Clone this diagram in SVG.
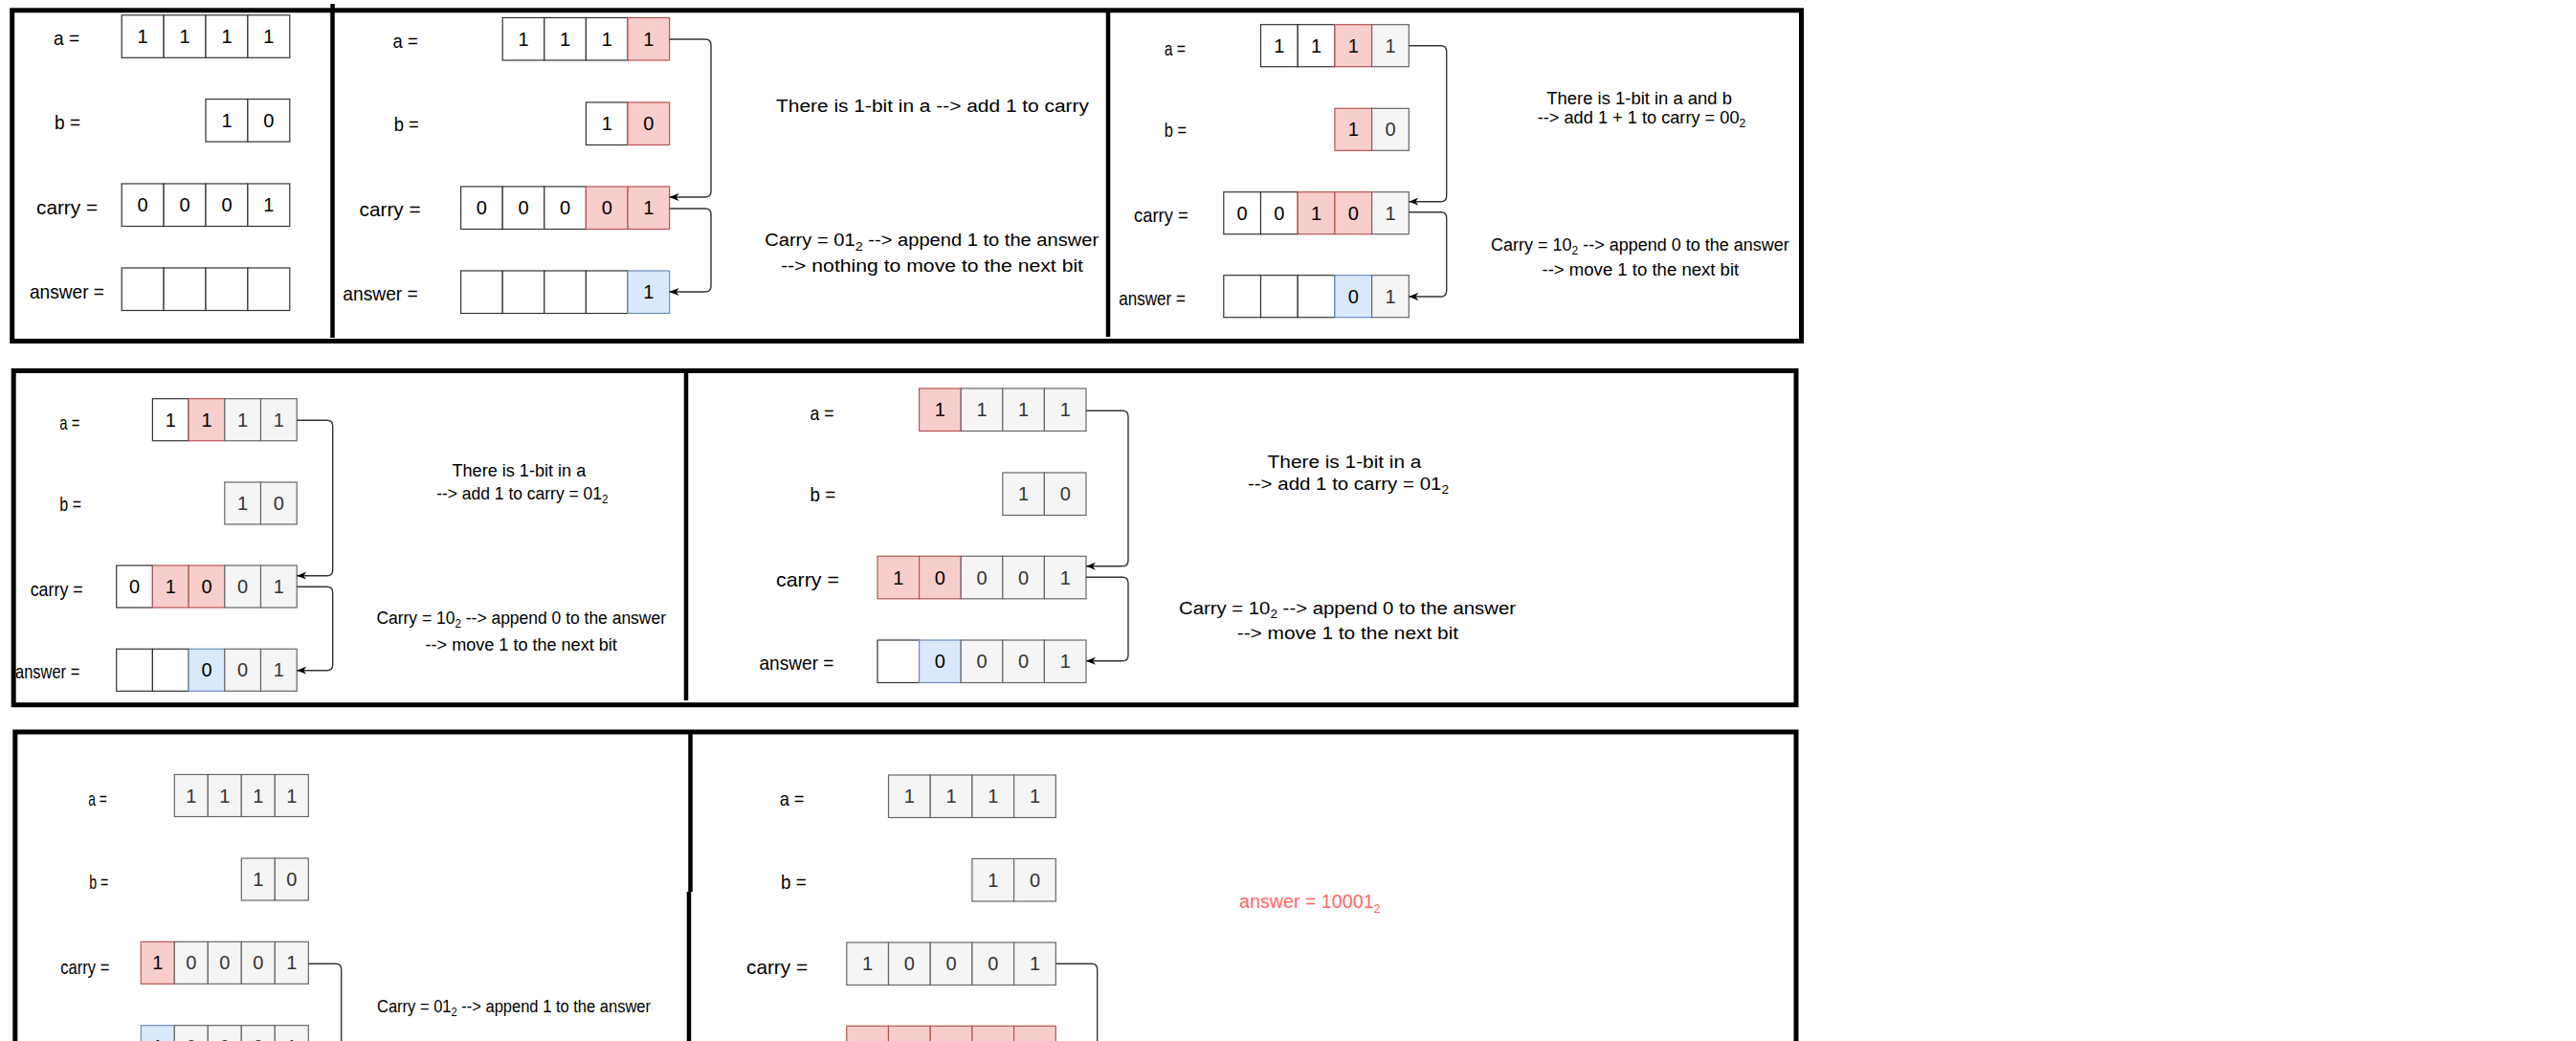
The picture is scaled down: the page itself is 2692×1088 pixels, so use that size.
<svg xmlns="http://www.w3.org/2000/svg" width="2692" height="1088" viewBox="0 0 2692 1088">
<style>
text{font-family:'Liberation Sans',Arial,sans-serif;fill:#000}
.lb{font-size:21px}
.tx{font-size:18px}
.d{font-size:20px;text-anchor:middle}
.dg{font-size:20px;text-anchor:middle;fill:#333}
.w{fill:#fff;stroke:#333;stroke-width:1.2}
.r{fill:#f8cecc;stroke:#b85450;stroke-width:1.2}
.g{fill:#f5f5f5;stroke:#666;stroke-width:1.2}
.b{fill:#dae8fc;stroke:#6c8ebf;stroke-width:1.2}
.frame{fill:none;stroke:#000;stroke-width:5}
.div{stroke:#000;stroke-width:4.5}
.c{fill:none;stroke:#333;stroke-width:1.4}
.ca{fill:none;stroke:#333;stroke-width:1.4;marker-end:url(#arr)}
.red{fill:#FF6666;font-size:20px}
</style>
<defs>
<marker id="arr" viewBox="0 0 10 10" refX="10" refY="5" markerWidth="10" markerHeight="10" markerUnits="userSpaceOnUse" orient="auto">
<path d="M0,1 L10,5 L0,9 L3,5 z" fill="#000"/>
</marker>
</defs>
<rect width="2692" height="1088" fill="#fff"/>

<!-- Row 1 Panel 1 -->
<g id="r1p1-a">
<text class="lb" x="56" y="47" textLength="27" lengthAdjust="spacingAndGlyphs">a =</text>
<rect class="w" x="127.2" y="15.8" width="43.9" height="44.5"/><rect class="w" x="171.1" y="15.8" width="43.9" height="44.5"/><rect class="w" x="215" y="15.8" width="43.9" height="44.5"/><rect class="w" x="258.9" y="15.8" width="43.9" height="44.5"/>
<text class="d" x="149.15" y="45">1</text><text class="d" x="193.05" y="45">1</text><text class="d" x="236.95" y="45">1</text><text class="d" x="280.85" y="45">1</text>
</g>
<g id="r1p1-b">
<text class="lb" x="57" y="135" textLength="27" lengthAdjust="spacingAndGlyphs">b =</text>
<rect class="w" x="215" y="103.6" width="43.9" height="44.5"/><rect class="w" x="258.9" y="103.6" width="43.9" height="44.5"/>
<text class="d" x="236.95" y="132.9">1</text><text class="d" x="280.85" y="132.9">0</text>
</g>
<g id="r1p1-carry">
<text class="lb" x="38" y="224" textLength="64" lengthAdjust="spacingAndGlyphs">carry =</text>
<rect class="w" x="127.2" y="192" width="43.9" height="44.5"/><rect class="w" x="171.1" y="192" width="43.9" height="44.5"/><rect class="w" x="215" y="192" width="43.9" height="44.5"/><rect class="w" x="258.9" y="192" width="43.9" height="44.5"/>
<text class="d" x="149.15" y="221.3">0</text><text class="d" x="193.05" y="221.3">0</text><text class="d" x="236.95" y="221.3">0</text><text class="d" x="280.85" y="221.3">1</text>
</g>
<g id="r1p1-answer">
<text class="lb" x="31" y="312" textLength="78" lengthAdjust="spacingAndGlyphs">answer =</text>
<rect class="w" x="127.2" y="280" width="43.9" height="44.5"/><rect class="w" x="171.1" y="280" width="43.9" height="44.5"/><rect class="w" x="215" y="280" width="43.9" height="44.5"/><rect class="w" x="258.9" y="280" width="43.9" height="44.5"/>
</g>

<!-- Row 1 Panel 2 -->
<g id="r1p2-a">
<text class="lb" x="410.6" y="49.7" textLength="26" lengthAdjust="spacingAndGlyphs">a =</text>
<rect class="w" x="525.2" y="18.5" width="43.6" height="44.5"/><rect class="w" x="568.8" y="18.5" width="43.6" height="44.5"/><rect class="w" x="612.4" y="18.5" width="43.6" height="44.5"/><rect class="r" x="656" y="18.5" width="43.6" height="44.5"/>
<text class="d" x="547" y="47.8">1</text><text class="d" x="590.6" y="47.8">1</text><text class="d" x="634.2" y="47.8">1</text><text class="d" x="677.8" y="47.8">1</text>
</g>
<g id="r1p2-b">
<text class="lb" x="411.7" y="137.2" textLength="26" lengthAdjust="spacingAndGlyphs">b =</text>
<rect class="w" x="612.4" y="107" width="43.6" height="44.5"/><rect class="r" x="656" y="107" width="43.6" height="44.5"/>
<text class="d" x="634.2" y="136.3">1</text><text class="d" x="677.8" y="136.3">0</text>
</g>
<g id="r1p2-carry">
<text class="lb" x="375.6" y="226.3" textLength="64" lengthAdjust="spacingAndGlyphs">carry =</text>
<rect class="w" x="481.6" y="195" width="43.6" height="44.5"/><rect class="w" x="525.2" y="195" width="43.6" height="44.5"/><rect class="w" x="568.8" y="195" width="43.6" height="44.5"/><rect class="r" x="612.4" y="195" width="43.6" height="44.5"/><rect class="r" x="656" y="195" width="43.6" height="44.5"/>
<text class="d" x="503.4" y="224.3">0</text><text class="d" x="547" y="224.3">0</text><text class="d" x="590.6" y="224.3">0</text><text class="d" x="634.2" y="224.3">0</text><text class="d" x="677.8" y="224.3">1</text>
</g>
<g id="r1p2-answer">
<text class="lb" x="358.3" y="313.8" textLength="78.5" lengthAdjust="spacingAndGlyphs">answer =</text>
<rect class="w" x="481.6" y="283" width="43.6" height="44.5"/><rect class="w" x="525.2" y="283" width="43.6" height="44.5"/><rect class="w" x="568.8" y="283" width="43.6" height="44.5"/><rect class="w" x="612.4" y="283" width="43.6" height="44.5"/><rect class="b" x="656" y="283" width="43.6" height="44.5"/>
<text class="d" x="677.8" y="312.3">1</text>
</g>
<g id="r1p2-notes">
<text class="tx" font-size="20" x="811" y="117" textLength="327" lengthAdjust="spacingAndGlyphs">There is 1-bit in a --&gt; add 1 to carry</text>
<text class="tx" font-size="19" x="799.2" y="257.3" textLength="349" lengthAdjust="spacingAndGlyphs">Carry = 01<tspan font-size="13" dy="5">2</tspan><tspan dy="-5"> --&gt; append 1 to the answer</tspan></text>
<text class="tx" font-size="19" x="816" y="283.8" textLength="316" lengthAdjust="spacingAndGlyphs">--&gt; nothing to move to the next bit</text>
</g>

<!-- Row 1 Panel 3 -->
<g id="r1p3-a">
<text class="lb" x="1216.7" y="57.7" textLength="22.3" lengthAdjust="spacingAndGlyphs">a =</text>
<rect class="w" x="1317.5" y="25.7" width="38.7" height="44"/><rect class="w" x="1356.2" y="25.7" width="38.7" height="44"/><rect class="r" x="1394.9" y="25.7" width="38.7" height="44"/><rect class="g" x="1433.6" y="25.7" width="38.7" height="44"/>
<text class="d" x="1336.85" y="54.7">1</text><text class="d" x="1375.55" y="54.7">1</text><text class="d" x="1414.25" y="54.7">1</text><text class="dg" x="1452.95" y="54.7">1</text>
</g>
<g id="r1p3-b">
<text class="lb" x="1216.7" y="142.7" textLength="23.3" lengthAdjust="spacingAndGlyphs">b =</text>
<rect class="r" x="1394.9" y="113.3" width="38.7" height="44"/><rect class="g" x="1433.6" y="113.3" width="38.7" height="44"/>
<text class="d" x="1414.25" y="142.3">1</text><text class="dg" x="1452.95" y="142.3">0</text>
</g>
<g id="r1p3-carry">
<text class="lb" x="1185" y="232" textLength="56.7" lengthAdjust="spacingAndGlyphs">carry =</text>
<rect class="w" x="1278.8" y="200.7" width="38.7" height="44"/><rect class="w" x="1317.5" y="200.7" width="38.7" height="44"/><rect class="r" x="1356.2" y="200.7" width="38.7" height="44"/><rect class="r" x="1394.9" y="200.7" width="38.7" height="44"/><rect class="g" x="1433.6" y="200.7" width="38.7" height="44"/>
<text class="d" x="1298.15" y="229.7">0</text><text class="d" x="1336.85" y="229.7">0</text><text class="d" x="1375.55" y="229.7">1</text><text class="d" x="1414.25" y="229.7">0</text><text class="dg" x="1452.95" y="229.7">1</text>
</g>
<g id="r1p3-answer">
<text class="lb" x="1169.3" y="319.3" textLength="69.7" lengthAdjust="spacingAndGlyphs">answer =</text>
<rect class="w" x="1278.8" y="287.7" width="38.7" height="44"/><rect class="w" x="1317.5" y="287.7" width="38.7" height="44"/><rect class="w" x="1356.2" y="287.7" width="38.7" height="44"/><rect class="b" x="1394.9" y="287.7" width="38.7" height="44"/><rect class="g" x="1433.6" y="287.7" width="38.7" height="44"/>
<text class="d" x="1414.25" y="316.7">0</text><text class="dg" x="1452.95" y="316.7">1</text>
</g>
<g id="r1p3-notes">
<text class="tx" x="1616.3" y="108.5" textLength="193.7" lengthAdjust="spacingAndGlyphs">There is 1-bit in a and b</text>
<text class="tx" x="1606.7" y="128.5" textLength="217.6" lengthAdjust="spacingAndGlyphs">--&gt; add 1 + 1 to carry = 00<tspan font-size="12" dy="4">2</tspan></text>
<text class="tx" x="1558" y="261.7" textLength="311.8" lengthAdjust="spacingAndGlyphs">Carry = 10<tspan font-size="12" dy="4">2</tspan><tspan dy="-4"> --&gt; append 0 to the answer</tspan></text>
<text class="tx" x="1611.5" y="287.8" textLength="205.7" lengthAdjust="spacingAndGlyphs">--&gt; move 1 to the next bit</text>
</g>

<!-- Row 2 Panel 1 -->
<g id="r2p1-a">
<text class="lb" x="62.3" y="448.7" textLength="21" lengthAdjust="spacingAndGlyphs">a =</text>
<rect class="w" x="159.4" y="416.7" width="37.7" height="44"/><rect class="r" x="197.1" y="416.7" width="37.7" height="44"/><rect class="g" x="234.8" y="416.7" width="37.7" height="44"/><rect class="g" x="272.5" y="416.7" width="37.7" height="44"/>
<text class="d" x="178.25" y="445.7">1</text><text class="d" x="215.95" y="445.7">1</text><text class="dg" x="253.65" y="445.7">1</text><text class="dg" x="291.35" y="445.7">1</text>
</g>
<g id="r2p1-b">
<text class="lb" x="62.3" y="534.3" textLength="22.7" lengthAdjust="spacingAndGlyphs">b =</text>
<rect class="g" x="234.8" y="504" width="37.7" height="44"/><rect class="g" x="272.5" y="504" width="37.7" height="44"/>
<text class="dg" x="253.65" y="533">1</text><text class="dg" x="291.35" y="533">0</text>
</g>
<g id="r2p1-carry">
<text class="lb" x="31.7" y="623.3" textLength="55" lengthAdjust="spacingAndGlyphs">carry =</text>
<rect class="w" x="121.7" y="591" width="37.7" height="44"/><rect class="r" x="159.4" y="591" width="37.7" height="44"/><rect class="r" x="197.1" y="591" width="37.7" height="44"/><rect class="g" x="234.8" y="591" width="37.7" height="44"/><rect class="g" x="272.5" y="591" width="37.7" height="44"/>
<text class="d" x="140.55" y="620">0</text><text class="d" x="178.25" y="620">1</text><text class="d" x="215.95" y="620">0</text><text class="dg" x="253.65" y="620">0</text><text class="dg" x="291.35" y="620">1</text>
</g>
<g id="r2p1-answer">
<text class="lb" x="16" y="709.3" textLength="67.3" lengthAdjust="spacingAndGlyphs">answer =</text>
<rect class="w" x="121.7" y="678.3" width="37.7" height="44"/><rect class="w" x="159.4" y="678.3" width="37.7" height="44"/><rect class="b" x="197.1" y="678.3" width="37.7" height="44"/><rect class="g" x="234.8" y="678.3" width="37.7" height="44"/><rect class="g" x="272.5" y="678.3" width="37.7" height="44"/>
<text class="d" x="215.95" y="707.3">0</text><text class="dg" x="253.65" y="707.3">0</text><text class="dg" x="291.35" y="707.3">1</text>
</g>
<g id="r2p1-notes">
<text class="tx" x="472.5" y="498.3" textLength="139.7" lengthAdjust="spacingAndGlyphs">There is 1-bit in a</text>
<text class="tx" x="456.2" y="522.4" textLength="179.3" lengthAdjust="spacingAndGlyphs">--&gt; add 1 to carry = 01<tspan font-size="12" dy="4">2</tspan></text>
<text class="tx" x="393.4" y="652.3" textLength="302.6" lengthAdjust="spacingAndGlyphs">Carry = 10<tspan font-size="12" dy="4">2</tspan><tspan dy="-4"> --&gt; append 0 to the answer</tspan></text>
<text class="tx" x="444.6" y="679.7" textLength="200.2" lengthAdjust="spacingAndGlyphs">--&gt; move 1 to the next bit</text>
</g>

<!-- Row 2 Panel 2 -->
<g id="r2p2-a">
<text class="lb" x="846.6" y="438.7" textLength="25" lengthAdjust="spacingAndGlyphs">a =</text>
<rect class="r" x="960.6" y="406" width="43.6" height="44.5"/><rect class="g" x="1004.2" y="406" width="43.6" height="44.5"/><rect class="g" x="1047.8" y="406" width="43.6" height="44.5"/><rect class="g" x="1091.4" y="406" width="43.6" height="44.5"/>
<text class="d" x="982.4" y="435.3">1</text><text class="dg" x="1026" y="435.3">1</text><text class="dg" x="1069.6" y="435.3">1</text><text class="dg" x="1113.2" y="435.3">1</text>
</g>
<g id="r2p2-b">
<text class="lb" x="846.6" y="524.3" textLength="26.5" lengthAdjust="spacingAndGlyphs">b =</text>
<rect class="g" x="1047.8" y="494" width="43.6" height="44.5"/><rect class="g" x="1091.4" y="494" width="43.6" height="44.5"/>
<text class="dg" x="1069.6" y="523.3">1</text><text class="dg" x="1113.2" y="523.3">0</text>
</g>
<g id="r2p2-carry">
<text class="lb" x="811" y="613.3" textLength="66" lengthAdjust="spacingAndGlyphs">carry =</text>
<rect class="r" x="917" y="581.3" width="43.6" height="44.5"/><rect class="r" x="960.6" y="581.3" width="43.6" height="44.5"/><rect class="g" x="1004.2" y="581.3" width="43.6" height="44.5"/><rect class="g" x="1047.8" y="581.3" width="43.6" height="44.5"/><rect class="g" x="1091.4" y="581.3" width="43.6" height="44.5"/>
<text class="d" x="938.8" y="610.6">1</text><text class="d" x="982.4" y="610.6">0</text><text class="dg" x="1026" y="610.6">0</text><text class="dg" x="1069.6" y="610.6">0</text><text class="dg" x="1113.2" y="610.6">1</text>
</g>
<g id="r2p2-answer">
<text class="lb" x="793.5" y="700" textLength="78" lengthAdjust="spacingAndGlyphs">answer =</text>
<rect class="w" x="917" y="669" width="43.6" height="44.5"/><rect class="b" x="960.6" y="669" width="43.6" height="44.5"/><rect class="g" x="1004.2" y="669" width="43.6" height="44.5"/><rect class="g" x="1047.8" y="669" width="43.6" height="44.5"/><rect class="g" x="1091.4" y="669" width="43.6" height="44.5"/>
<text class="d" x="982.4" y="698.3">0</text><text class="dg" x="1026" y="698.3">0</text><text class="dg" x="1069.6" y="698.3">0</text><text class="dg" x="1113.2" y="698.3">1</text>
</g>
<g id="r2p2-notes">
<text class="tx" x="1324.6" y="489" textLength="160.8" lengthAdjust="spacingAndGlyphs">There is 1-bit in a</text>
<text class="tx" x="1304" y="512" textLength="210" lengthAdjust="spacingAndGlyphs">--&gt; add 1 to carry = 01<tspan font-size="12" dy="4">2</tspan></text>
<text class="tx" x="1232" y="641.7" textLength="352" lengthAdjust="spacingAndGlyphs">Carry = 10<tspan font-size="12" dy="4">2</tspan><tspan dy="-4"> --&gt; append 0 to the answer</tspan></text>
<text class="tx" x="1292.7" y="668.3" textLength="231.4" lengthAdjust="spacingAndGlyphs">--&gt; move 1 to the next bit</text>
</g>

<!-- Row 3 Panel 1 -->
<g id="r3p1-a">
<text class="lb" x="92.2" y="842" textLength="19.5" lengthAdjust="spacingAndGlyphs">a =</text>
<rect class="g" x="182.3" y="809.5" width="35" height="44"/><rect class="g" x="217.3" y="809.5" width="35" height="44"/><rect class="g" x="252.3" y="809.5" width="35" height="44"/><rect class="g" x="287.3" y="809.5" width="35" height="44"/>
<text class="dg" x="199.8" y="838.5">1</text><text class="dg" x="234.8" y="838.5">1</text><text class="dg" x="269.8" y="838.5">1</text><text class="dg" x="304.8" y="838.5">1</text>
</g>
<g id="r3p1-b">
<text class="lb" x="93.3" y="929.3" textLength="20" lengthAdjust="spacingAndGlyphs">b =</text>
<rect class="g" x="252.3" y="897" width="35" height="44"/><rect class="g" x="287.3" y="897" width="35" height="44"/>
<text class="dg" x="269.8" y="926">1</text><text class="dg" x="304.8" y="926">0</text>
</g>
<g id="r3p1-carry">
<text class="lb" x="63.3" y="1017.7" textLength="51" lengthAdjust="spacingAndGlyphs">carry =</text>
<rect class="r" x="147.3" y="984.3" width="35" height="44"/><rect class="g" x="182.3" y="984.3" width="35" height="44"/><rect class="g" x="217.3" y="984.3" width="35" height="44"/><rect class="g" x="252.3" y="984.3" width="35" height="44"/><rect class="g" x="287.3" y="984.3" width="35" height="44"/>
<text class="d" x="164.8" y="1013.3">1</text><text class="dg" x="199.8" y="1013.3">0</text><text class="dg" x="234.8" y="1013.3">0</text><text class="dg" x="269.8" y="1013.3">0</text><text class="dg" x="304.8" y="1013.3">1</text>
</g>
<g id="r3p1-answer">
<rect class="b" x="147.3" y="1071.7" width="35" height="44"/><rect class="g" x="182.3" y="1071.7" width="35" height="44"/><rect class="g" x="217.3" y="1071.7" width="35" height="44"/><rect class="g" x="252.3" y="1071.7" width="35" height="44"/><rect class="g" x="287.3" y="1071.7" width="35" height="44"/>
<text class="d" x="164.8" y="1100.7">1</text><text class="dg" x="199.8" y="1100.7">0</text><text class="dg" x="234.8" y="1100.7">0</text><text class="dg" x="269.8" y="1100.7">0</text><text class="dg" x="304.8" y="1100.7">1</text>
</g>
<g id="r3p1-notes">
<text class="tx" x="394" y="1058" textLength="286" lengthAdjust="spacingAndGlyphs">Carry = 01<tspan font-size="12" dy="4">2</tspan><tspan dy="-4"> --&gt; append 1 to the answer</tspan></text>
</g>

<!-- Row 3 Panel 2 -->
<g id="r3p2-a">
<text class="lb" x="814.7" y="842" textLength="25.8" lengthAdjust="spacingAndGlyphs">a =</text>
<rect class="g" x="928.5" y="810" width="43.7" height="44.5"/><rect class="g" x="972.2" y="810" width="43.7" height="44.5"/><rect class="g" x="1015.9" y="810" width="43.7" height="44.5"/><rect class="g" x="1059.6" y="810" width="43.7" height="44.5"/>
<text class="dg" x="950.35" y="839.3">1</text><text class="dg" x="994.05" y="839.3">1</text><text class="dg" x="1037.75" y="839.3">1</text><text class="dg" x="1081.45" y="839.3">1</text>
</g>
<g id="r3p2-b">
<text class="lb" x="816" y="929.3" textLength="26.7" lengthAdjust="spacingAndGlyphs">b =</text>
<rect class="g" x="1015.9" y="897.5" width="43.7" height="44.5"/><rect class="g" x="1059.6" y="897.5" width="43.7" height="44.5"/>
<text class="dg" x="1037.75" y="926.8">1</text><text class="dg" x="1081.45" y="926.8">0</text>
</g>
<g id="r3p2-carry">
<text class="lb" x="780" y="1017.7" textLength="64" lengthAdjust="spacingAndGlyphs">carry =</text>
<rect class="g" x="884.8" y="985" width="43.7" height="44.5"/><rect class="g" x="928.5" y="985" width="43.7" height="44.5"/><rect class="g" x="972.2" y="985" width="43.7" height="44.5"/><rect class="g" x="1015.9" y="985" width="43.7" height="44.5"/><rect class="g" x="1059.6" y="985" width="43.7" height="44.5"/>
<text class="dg" x="906.65" y="1014.3">1</text><text class="dg" x="950.35" y="1014.3">0</text><text class="dg" x="994.05" y="1014.3">0</text><text class="dg" x="1037.75" y="1014.3">0</text><text class="dg" x="1081.45" y="1014.3">1</text>
</g>
<g id="r3p2-answer">
<rect class="r" x="884.8" y="1072.3" width="43.7" height="44.5"/><rect class="r" x="928.5" y="1072.3" width="43.7" height="44.5"/><rect class="r" x="972.2" y="1072.3" width="43.7" height="44.5"/><rect class="r" x="1015.9" y="1072.3" width="43.7" height="44.5"/><rect class="r" x="1059.6" y="1072.3" width="43.7" height="44.5"/>
</g>
<g id="r3p2-result">
<text class="red" x="1295" y="949.3" textLength="147.7" lengthAdjust="spacingAndGlyphs">answer = 10001<tspan font-size="13" dy="5">2</tspan></text>
</g>

<!-- Connectors -->
<g id="connectors">
<path class="ca" d="M699.6,41 H737 Q743,41 743,47 V200 Q743,206 737,206 H699.6"/>
<path class="ca" d="M699.6,218 H737 Q743,218 743,224 V299 Q743,305 737,305 H699.6"/>
<path class="ca" d="M1472.3,47.7 H1505.7 Q1511.7,47.7 1511.7,53.7 V204.7 Q1511.7,210.7 1505.7,210.7 H1472.3"/>
<path class="ca" d="M1472.3,221.7 H1505.7 Q1511.7,221.7 1511.7,227.7 V304 Q1511.7,310 1505.7,310 H1472.3"/>
<path class="ca" d="M310.2,439.3 H341.7 Q347.7,439.3 347.7,445.3 V595.7 Q347.7,601.7 341.7,601.7 H310.2"/>
<path class="ca" d="M310.2,613.3 H341.7 Q347.7,613.3 347.7,619.3 V694.7 Q347.7,700.7 341.7,700.7 H310.2"/>
<path class="ca" d="M1135,429.3 H1173 Q1179,429.3 1179,435.3 V585.7 Q1179,591.7 1173,591.7 H1135"/>
<path class="ca" d="M1135,603.3 H1173 Q1179,603.3 1179,609.3 V684.7 Q1179,690.7 1173,690.7 H1135"/>
<path class="c" d="M322.3,1007.3 H350.7 Q356.7,1007.3 356.7,1013.3 V1100"/>
<path class="c" d="M1103.3,1007.3 H1140.7 Q1146.7,1007.3 1146.7,1013.3 V1100"/>
</g>

<!-- Frames -->
<g id="frames">
<rect class="frame" x="12.7" y="10.8" width="1869.8" height="345.7"/>
<line class="div" x1="347.5" y1="4" x2="347.5" y2="353"/>
<line class="div" x1="1158" y1="13" x2="1158" y2="352"/>
<rect class="frame" x="14.2" y="387.5" width="1862.8" height="349.2"/>
<line class="div" x1="717" y1="390" x2="717" y2="732"/>
<rect class="frame" x="15.8" y="765" width="1861.2" height="400"/>
<line class="div" x1="721.5" y1="767" x2="721.5" y2="932"/>
<line class="div" x1="720" y1="932" x2="720" y2="1090"/>
</g>
</svg>
